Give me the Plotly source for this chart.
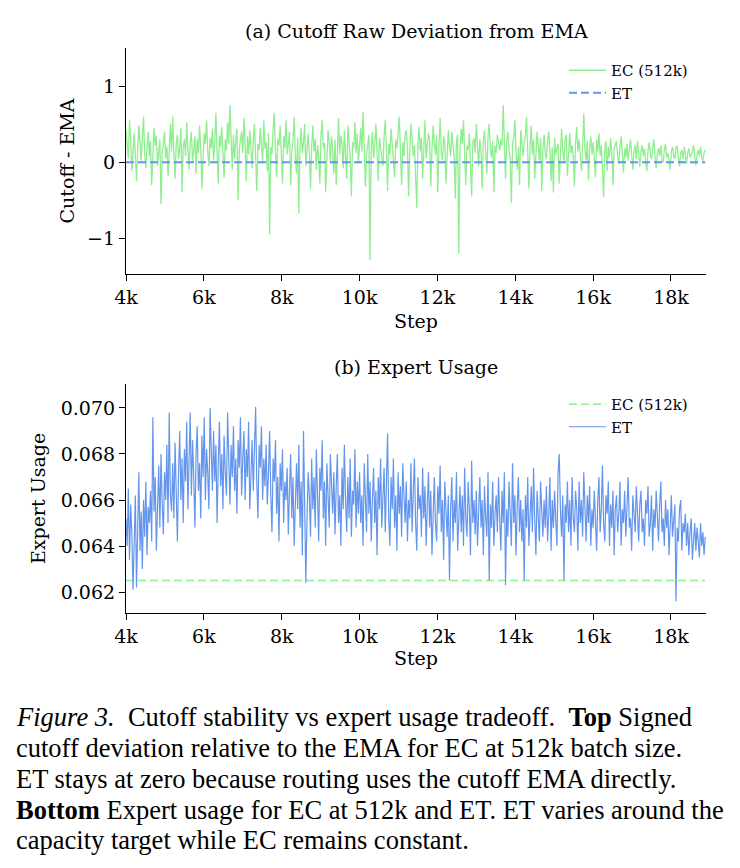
import plotly.graph_objects as go

# ---------------- data ----------------
STEP_START = 4000
STEP_END = 18880
STEP_EVERY = 30
steps = list(range(STEP_START, STEP_END + 1, STEP_EVERY))

# (a) cutoff minus EMA for EC (512k) (20 values = 600 steps per row)
ec_cutoff_dev = [
    0.42, 0.18, 0.05, 0.55, 0.30, -0.12, 0.22, 0.38, 0.10, -0.25, 0.15, 0.48, 0.26, 0.02, 0.33, 0.60, 0.12, -0.08, 0.20, 0.40,
    0.08, 0.28, -0.30, 0.15, 0.45, 0.22, 0.35, -0.05, 0.18, 0.30, -0.55, 0.12, 0.25, 0.40, 0.05, 0.20, -0.18, 0.32, 0.50, 0.14,
    0.60, 0.10, -0.22, 0.25, 0.36, 0.04, 0.18, 0.45, -0.40, 0.20, 0.30, 0.08, 0.52, 0.16, -0.10, 0.28, 0.40, 0.00, 0.22, 0.34,
    -0.15, 0.30, 0.12, 0.48, 0.20, -0.35, 0.06, 0.38, 0.24, 0.55, 0.14, -0.05, 0.32, 0.18, 0.44, 0.02, 0.26, 0.65, 0.10, -0.28,
    0.35, 0.20, 0.46, 0.08, -0.20, 0.30, 0.15, 0.52, 0.24, 0.75, 0.18, -0.10, 0.36, 0.05, 0.28, 0.44, -0.50, 0.16, 0.30, 0.40,
    0.12, 0.58, 0.22, -0.25, 0.34, 0.10, 0.42, 0.20, -0.08, 0.30, 0.50, 0.06, -0.38, 0.24, 0.16, 0.45, 0.28, 0.00, 0.55, 0.18,
    0.26, -0.12, 0.38, -0.95, 0.20, 0.10, 0.44, 0.65, 0.14, -0.20, 0.30, 0.22, 0.48, 0.05, -0.28, 0.34, 0.18, 0.55, 0.10, 0.24,
    0.40, -0.30, 0.15, 0.28, 0.60, 0.08, -0.15, 0.32, -0.67, 0.20, 0.45, 0.12, 0.26, 0.50, -0.05, 0.18, 0.38, 0.10, -0.35, 0.22,
    0.48, 0.14, 0.30, -0.10, 0.22, 0.05, -0.28, 0.36, 0.55, 0.18, 0.25, -0.40, 0.12, 0.42, 0.28, 0.00, 0.34, 0.16, -0.15, 0.30,
    -0.30, 0.20, 0.58, 0.10, 0.35, 0.24, -0.08, 0.42, 0.15, -0.22, 0.48, 0.30, 0.06, -0.45, 0.26, 0.18, 0.52, 0.12, 0.38, -0.02,
    0.30, 0.45, 0.14, 0.66, 0.22, -0.32, 0.10, 0.28, 0.36, -1.29, 0.18, 0.40, 0.05, 0.25, 0.50, 0.12, -0.25, 0.32, 0.20, 0.08,
    -0.05, 0.34, 0.55, 0.16, -0.38, 0.24, 0.10, 0.44, 0.28, 0.02, -0.20, 0.30, 0.18, 0.40, 0.60, 0.14, -0.30, 0.26, 0.08, 0.36,
    0.42, 0.20, -0.45, 0.12, 0.50, 0.30, 0.08, 0.22, -0.15, -0.60, 0.26, 0.46, 0.14, 0.32, -0.22, 0.18, 0.55, 0.05, 0.28, 0.38,
    0.30, -0.32, 0.16, 0.48, 0.24, 0.10, 0.36, -0.40, 0.20, 0.58, 0.12, 0.02, 0.34, 0.26, -0.28, 0.14, 0.42, 0.22, 0.08, 0.40,
    0.18, 0.06, -0.48, 0.28, 0.36, -1.20, 0.14, 0.44, 0.24, 0.55, 0.10, -0.30, 0.22, 0.16, 0.38, 0.04, -0.45, 0.26, 0.32, 0.12,
    0.50, 0.20, -0.05, 0.30, 0.14, -0.35, 0.26, 0.42, 0.08, -0.15, 0.34, 0.50, 0.18, 0.06, 0.28, -0.40, 0.22, 0.12, 0.36, 0.24,
    0.15, 0.30, 0.22, 0.75, 0.10, -0.22, 0.28, 0.40, 0.16, 0.04, -0.54, 0.24, 0.32, 0.55, 0.12, -0.10, 0.20, -0.30, 0.42, 0.18,
    0.08, 0.26, 0.34, 0.60, 0.14, -0.35, 0.20, 0.48, 0.10, 0.30, -0.22, 0.16, 0.40, 0.24, 0.02, 0.32, -0.38, 0.18, 0.36, 0.12,
    0.04, 0.28, 0.40, 0.14, -0.25, 0.20, -0.40, 0.32, 0.10, 0.18, 0.24, -0.28, 0.06, 0.44, 0.16, 0.00, 0.30, 0.36, -0.18, 0.14,
    0.38, 0.12, 0.22, 0.06, -0.32, 0.26, 0.46, 0.14, 0.30, 0.08, -0.12, 0.20, 0.64, 0.16, 0.02, 0.28, -0.24, 0.18, 0.34, 0.10,
    0.26, 0.04, -0.20, 0.30, 0.14, 0.38, 0.08, 0.22, -0.10, -0.46, 0.16, 0.28, -0.12, 0.20, 0.06, 0.32, 0.12, -0.30, 0.18, 0.24,
    0.28, 0.08, -0.02, 0.20, 0.34, 0.12, -0.14, 0.18, 0.06, 0.24, 0.02, 0.16, 0.30, 0.10, -0.10, 0.14, 0.22, 0.04, 0.28, 0.12,
    -0.06, 0.14, 0.22, 0.08, 0.18, 0.02, -0.12, 0.16, 0.26, 0.10, 0.04, 0.20, 0.30, 0.06, -0.08, 0.12, 0.18, 0.08, 0.22, 0.02,
    0.00, 0.16, 0.24, 0.06, 0.12, 0.02, -0.10, 0.14, 0.20, 0.08, 0.04, 0.18, 0.22, 0.06, -0.06, 0.12, 0.16, 0.04, 0.20, 0.10,
    -0.02, 0.12, 0.18, 0.06, 0.10, 0.14, 0.22, 0.04, -0.04, 0.10, 0.16, 0.08, 0.20, 0.06, 0.02, 0.12, 0.16,
]
et_cutoff_dev = 0.0  # ET routes with the EMA directly

# (b) expert usage for ET
et_usage = [
    0.0652, 0.0640, 0.0665, 0.0634, 0.0658, 0.0645, 0.0621, 0.0650, 0.0662, 0.0622, 0.0648, 0.0672, 0.0638, 0.0655, 0.0630, 0.0660, 0.0644, 0.0668, 0.0636, 0.0657,
    0.0650, 0.0664, 0.0642, 0.0696, 0.0655, 0.0670, 0.0638, 0.0662, 0.0675, 0.0648, 0.0680, 0.0658, 0.0645, 0.0672, 0.0660, 0.0684, 0.0650, 0.0698, 0.0662, 0.0655,
    0.0676, 0.0652, 0.0685, 0.0664, 0.0642, 0.0672, 0.0690, 0.0660, 0.0678, 0.0650, 0.0682, 0.0668, 0.0694, 0.0656, 0.0674, 0.0698, 0.0662, 0.0686, 0.0670, 0.0648,
    0.0680, 0.0692, 0.0664, 0.0676, 0.0652, 0.0688, 0.0670, 0.0696, 0.0660, 0.0682, 0.0672, 0.0656, 0.0700, 0.0678, 0.0664, 0.0690, 0.0668, 0.0684, 0.0650, 0.0676,
    0.0694, 0.0666, 0.0680, 0.0656, 0.0688, 0.0672, 0.0662, 0.0698, 0.0676, 0.0658, 0.0684, 0.0670, 0.0692, 0.0664, 0.0678, 0.0654, 0.0686, 0.0674, 0.0696, 0.0662,
    0.0678, 0.0690, 0.0660, 0.0682, 0.0670, 0.0694, 0.0656, 0.0676, 0.0686, 0.0664, 0.0680, 0.07005, 0.0668, 0.0652, 0.0684, 0.0674, 0.0692, 0.0660, 0.0678, 0.0666,
    0.0684, 0.0658, 0.0672, 0.0690, 0.0662, 0.0646, 0.0678, 0.0668, 0.0686, 0.0654, 0.0670, 0.0642, 0.0676, 0.0664, 0.0682, 0.0650, 0.0668, 0.0660, 0.0674, 0.0645,
    0.0664, 0.0680, 0.0652, 0.0670, 0.0640, 0.0662, 0.0676, 0.0656, 0.0684, 0.0648, 0.0668, 0.0636, 0.0690, 0.0658, 0.0624, 0.0652, 0.0672, 0.0662, 0.0644, 0.0678,
    0.0656, 0.0670, 0.0648, 0.0682, 0.0660, 0.0642, 0.0674, 0.0664, 0.0686, 0.0652, 0.0668, 0.0640, 0.0676, 0.0658, 0.0648, 0.0680, 0.0662, 0.0654, 0.0672, 0.0645,
    0.0666, 0.0680, 0.0650, 0.0662, 0.0640, 0.0674, 0.0656, 0.0684, 0.0660, 0.0646, 0.0670, 0.0652, 0.0678, 0.0644, 0.0664, 0.0658, 0.0682, 0.0648, 0.0668, 0.0654,
    0.0672, 0.0650, 0.0662, 0.0640, 0.0676, 0.0658, 0.0646, 0.0680, 0.0654, 0.0668, 0.0642, 0.0660, 0.0674, 0.0650, 0.0664, 0.0636, 0.0670, 0.0656, 0.0678, 0.0648,
    0.0660, 0.0674, 0.0646, 0.0664, 0.0689, 0.0652, 0.0640, 0.0670, 0.0656, 0.0678, 0.0648, 0.0662, 0.0638, 0.0672, 0.0654, 0.0666, 0.0644, 0.0676, 0.0658, 0.0650,
    0.0668, 0.0642, 0.0660, 0.0652, 0.0676, 0.0646, 0.0664, 0.0678, 0.0650, 0.0638, 0.0670, 0.0656, 0.0662, 0.0644, 0.0674, 0.0652, 0.0666, 0.0640, 0.0658, 0.0672,
    0.0648, 0.0664, 0.0636, 0.0656, 0.0670, 0.0650, 0.0642, 0.0666, 0.0654, 0.0675, 0.0646, 0.0660, 0.0634, 0.0668, 0.0652, 0.0644, 0.0662, 0.0625, 0.0656, 0.0670,
    0.0642, 0.0660, 0.0650, 0.0672, 0.0638, 0.0656, 0.0666, 0.0646, 0.0662, 0.0640, 0.0674, 0.0652, 0.0644, 0.0668, 0.0656, 0.0636, 0.0677, 0.0650, 0.0660, 0.0645,
    0.0664, 0.0640, 0.0656, 0.0670, 0.0648, 0.0660, 0.0636, 0.0666, 0.0652, 0.0644, 0.0672, 0.0625, 0.0658, 0.0648, 0.0668, 0.0640, 0.0654, 0.0662, 0.0646, 0.0670,
    0.0652, 0.0638, 0.0664, 0.0650, 0.0672, 0.0623, 0.0656, 0.0644, 0.0668, 0.0654, 0.0640, 0.0676, 0.0650, 0.0662, 0.0636, 0.0658, 0.0670, 0.0646, 0.0660, 0.0642,
    0.0656, 0.0625, 0.0662, 0.0648, 0.0670, 0.0640, 0.0658, 0.0666, 0.0646, 0.0674, 0.0652, 0.0636, 0.0664, 0.0650, 0.0642, 0.0668, 0.0656, 0.0644, 0.0660, 0.0648,
    0.0666, 0.0642, 0.0654, 0.0670, 0.0638, 0.0660, 0.0648, 0.0664, 0.0652, 0.0640, 0.0672, 0.0680, 0.0656, 0.0644, 0.0662, 0.0625, 0.0658, 0.0650, 0.0668, 0.0646,
    0.0660, 0.0640, 0.0670, 0.0652, 0.0646, 0.0664, 0.0656, 0.0638, 0.0668, 0.0650, 0.0660, 0.0644, 0.0672, 0.0654, 0.0642, 0.0662, 0.0650, 0.0666, 0.0640, 0.0656,
    0.0648, 0.0664, 0.0652, 0.0638, 0.0660, 0.0670, 0.0646, 0.0656, 0.0675, 0.0650, 0.0642, 0.0662, 0.0654, 0.0668, 0.0640, 0.0658, 0.0648, 0.0664, 0.0636, 0.0656,
    0.0662, 0.0646, 0.0654, 0.0668, 0.0640, 0.0656, 0.0650, 0.0664, 0.0644, 0.0658, 0.0670, 0.0648, 0.0652, 0.0638, 0.0662, 0.0654, 0.0646, 0.0666, 0.0650, 0.0642,
    0.0658, 0.0664, 0.0646, 0.0652, 0.0640, 0.0660, 0.0654, 0.0666, 0.0644, 0.0650, 0.0662, 0.0638, 0.0656, 0.0648, 0.0664, 0.0652, 0.0642, 0.0658, 0.0668, 0.0646,
    0.0652, 0.0640, 0.0660, 0.0648, 0.0656, 0.0636, 0.0654, 0.0662, 0.0644, 0.0650, 0.0658, 0.0616, 0.0648, 0.0642, 0.0656, 0.0660, 0.0638, 0.0650, 0.0646, 0.0654,
    0.0640, 0.0650, 0.0636, 0.0646, 0.0652, 0.0634, 0.0644, 0.0650, 0.0638, 0.0648, 0.0642, 0.0635, 0.0650, 0.0640, 0.0646, 0.0636, 0.0644,
]
ec_usage = 0.0625  # EC capacity target (constant)

x_tickvals = [4000, 6000, 8000, 10000, 12000, 14000, 16000, 18000]
x_ticktext = ["4k", "6k", "8k", "10k", "12k", "14k", "16k", "18k"]
top_tickvals = [-1, 0, 1]
top_ticktext = ["\u22121", "0", "1"]
bot_tickvals = [0.062, 0.064, 0.066, 0.068, 0.070]
bot_ticktext = ["0.062", "0.064", "0.066", "0.068", "0.070"]

caption_lines = [
    "<i>Figure 3.</i>  Cutoff stability vs expert usage tradeoff.  <b>Top</b> Signed",
    "cutoff deviation relative to the EMA for EC at 512k batch size.",
    "ET stays at zero because routing uses the cutoff EMA directly.",
    "<b>Bottom</b> Expert usage for EC at 512k and ET. ET varies around the",
    "capacity target while EC remains constant.",
]

# ---------------- style ----------------
GREEN = "#90EE90"
BLUE = "#6495ED"
W, H = 740, 868
SERIF = "DejaVu Serif"
CAP_FONT = "Liberation Serif"
FS = 19


def px_x(p):
    return p / W


def px_y(p):
    return 1 - p / H


x_dom = [px_x(126), px_x(706)]
top_dom = [px_y(274), px_y(48)]
bot_dom = [px_y(613), px_y(384)]
x_range = [STEP_START, 18900]

fig = go.Figure()

fig.add_trace(go.Scatter(
    x=steps, y=ec_cutoff_dev, mode="lines", name="EC (512k)",
    line=dict(color=GREEN, width=1.3), xaxis="x", yaxis="y", legend="legend"))
fig.add_trace(go.Scatter(
    x=[steps[0], steps[-1]], y=[et_cutoff_dev, et_cutoff_dev], mode="lines", name="ET",
    line=dict(color=BLUE, width=2, dash="8px,4px"), xaxis="x", yaxis="y", legend="legend"))

fig.add_trace(go.Scatter(
    x=[steps[0], steps[-1]], y=[ec_usage, ec_usage], mode="lines", name="EC (512k)",
    line=dict(color=GREEN, width=1.6, dash="8px,4px"), xaxis="x2", yaxis="y2", legend="legend2"))
fig.add_trace(go.Scatter(
    x=steps, y=et_usage, mode="lines", name="ET",
    line=dict(color=BLUE, width=1.2), xaxis="x2", yaxis="y2", legend="legend2"))

axis_common = dict(
    showline=True, linecolor="black", linewidth=1.2,
    ticks="outside", ticklen=6, tickwidth=1.2, tickcolor="black",
    showgrid=False, zeroline=False, mirror=False, automargin=False,
    tickfont=dict(family=SERIF, size=FS, color="black"),
)
title_font = dict(family=SERIF, size=FS, color="black")

fig.update_layout(
    width=W, height=H,
    margin=dict(l=0, r=0, t=0, b=0, autoexpand=False),
    paper_bgcolor="white", plot_bgcolor="white",
    font=dict(family=SERIF, color="black"),
    showlegend=True,
    xaxis=dict(domain=x_dom, anchor="y", range=x_range, tickvals=x_tickvals,
               ticktext=x_ticktext,
               title=dict(text="Step", font=title_font, standoff=7),
               **axis_common),
    yaxis=dict(domain=top_dom, anchor="x", range=[-1.47, 1.5], tickvals=top_tickvals,
               ticktext=top_ticktext,
               title=dict(text="Cutoff - EMA", font=title_font, standoff=7),
               **axis_common),
    xaxis2=dict(domain=x_dom, anchor="y2", range=x_range, tickvals=x_tickvals,
                ticktext=x_ticktext,
                title=dict(text="Step", font=title_font, standoff=5),
                **axis_common),
    yaxis2=dict(domain=bot_dom, anchor="x2", range=[0.06109, 0.07104], tickvals=bot_tickvals,
                ticktext=bot_ticktext,
                title=dict(text="Expert Usage", font=title_font, standoff=10),
                **axis_common),
    legend=dict(x=px_x(564), y=px_y(54), xanchor="left", yanchor="top",
                bgcolor="rgba(0,0,0,0)", font=dict(family=SERIF, size=15),
                itemwidth=37, tracegroupgap=0),
    legend2=dict(x=px_x(564), y=px_y(388), xanchor="left", yanchor="top",
                 bgcolor="rgba(0,0,0,0)", font=dict(family=SERIF, size=15),
                 itemwidth=37, tracegroupgap=0),
)

annotations = [
    dict(text="(a) Cutoff Raw Deviation from EMA", x=(x_dom[0] + x_dom[1]) / 2, y=px_y(31),
         xref="paper", yref="paper", showarrow=False, xanchor="center", yanchor="middle",
         font=dict(family=SERIF, size=FS, color="black")),
    dict(text="(b) Expert Usage", x=(x_dom[0] + x_dom[1]) / 2, y=px_y(367),
         xref="paper", yref="paper", showarrow=False, xanchor="center", yanchor="middle",
         font=dict(family=SERIF, size=FS, color="black")),
]
cap_y = [717, 748, 779, 810, 840]
for line, yy in zip(caption_lines, cap_y):
    annotations.append(dict(
        text=line, x=px_x(14), y=px_y(yy), xref="paper", yref="paper",
        showarrow=False, xanchor="left", yanchor="middle",
        font=dict(family=CAP_FONT, size=26.5, color="black")))
fig.update_layout(annotations=annotations)

fig.write_html("out.html", config={"displayModeBar": False})
